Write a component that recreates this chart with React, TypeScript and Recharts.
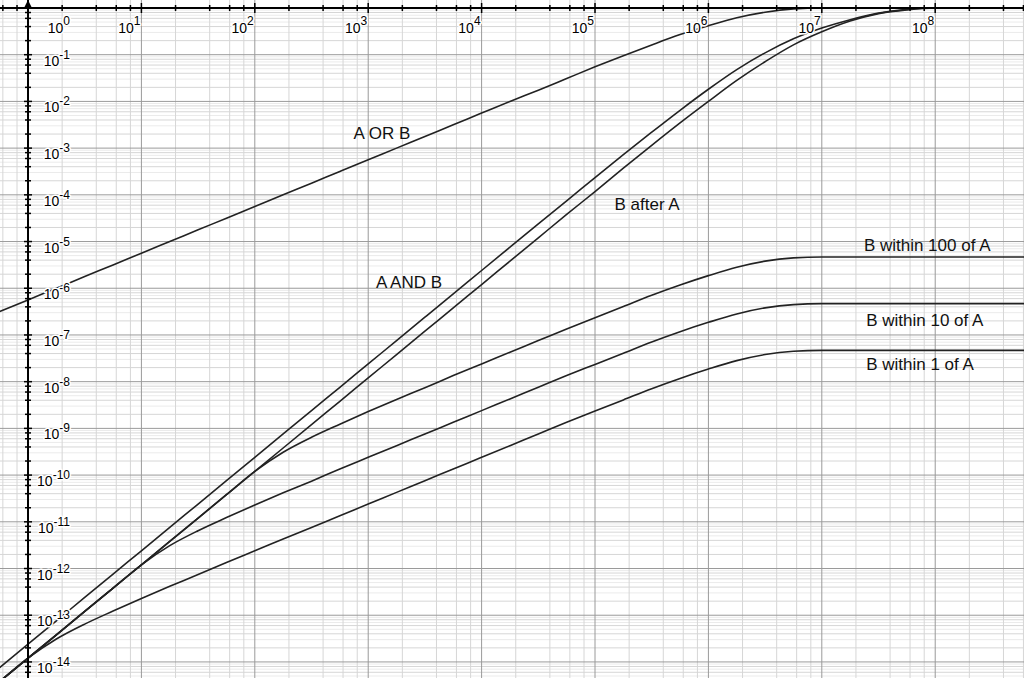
import { LineChart, Line, XAxis, YAxis, ReferenceLine, ReferenceDot } from 'recharts'

// sample positions along x, as powers of ten
const logN = [
  -0.25, 0, 0.25, 0.5, 0.75, 1, 1.25, 1.5, 1.75, 2, 2.25, 2.5, 2.75, 3, 3.25, 3.5, 3.75, 4, 4.25,
  4.5, 4.75, 5, 5.25, 5.5, 5.75, 6, 6.25, 6.5, 6.75, 7, 7.25, 7.5, 7.75, 8, 8.25, 8.5, 8.8,
]

// curve values, as powers of ten
const aOrB = [
  -6.5, -6.25, -6.0, -5.75, -5.5, -5.25, -5.0, -4.75, -4.5, -4.25, -4.0, -3.75, -3.5, -3.25, -3.0,
  -2.75, -2.5, -2.25, -2.0, -1.76, -1.51, -1.26, -1.02, -0.79, -0.57, -0.38, -0.21, -0.09, -0.02, 0,
  0, 0, 0, 0, 0, 0, 0,
]
const aAndB = [
  -14.12, -13.62, -13.12, -12.62, -12.12, -11.62, -11.12, -10.62, -10.12, -9.62, -9.12, -8.62, -8.12,
  -7.62, -7.12, -6.62, -6.12, -5.62, -5.12, -4.62, -4.13, -3.63, -3.14, -2.66, -2.19, -1.74, -1.32,
  -0.96, -0.66, -0.43, -0.25, -0.11, -0.03, 0, 0, 0, 0,
]
const bAfterA = [
  -14.42, -13.92, -13.42, -12.92, -12.42, -11.92, -11.42, -10.92, -10.42, -9.92, -9.42, -8.92, -8.42,
  -7.92, -7.42, -6.92, -6.42, -5.92, -5.42, -4.92, -4.42, -3.93, -3.43, -2.94, -2.46, -2.0, -1.55,
  -1.15, -0.79, -0.51, -0.28, -0.12, -0.04, 0, 0, 0, 0,
]
const within100 = [
  -14.42, -13.92, -13.42, -12.92, -12.42, -11.92, -11.42, -10.92, -10.42, -9.92, -9.51, -9.19, -8.91,
  -8.64, -8.38, -8.13, -7.87, -7.62, -7.37, -7.12, -6.87, -6.63, -6.39, -6.15, -5.93, -5.73, -5.55,
  -5.42, -5.35, -5.33, -5.33, -5.33, -5.33, -5.33, -5.33, -5.33, -5.33,
]
const within10 = [
  -14.42, -13.92, -13.42, -12.92, -12.42, -11.92, -11.51, -11.19, -10.91, -10.64, -10.38, -10.13,
  -9.87, -9.62, -9.37, -9.12, -8.87, -8.62, -8.37, -8.12, -7.87, -7.63, -7.39, -7.15, -6.93, -6.73,
  -6.55, -6.42, -6.35, -6.33, -6.33, -6.33, -6.33, -6.33, -6.33, -6.33, -6.33,
]
const within1 = [
  -14.42, -13.92, -13.51, -13.19, -12.91, -12.64, -12.38, -12.13, -11.87, -11.62, -11.37, -11.12,
  -10.87, -10.62, -10.37, -10.12, -9.87, -9.62, -9.37, -9.12, -8.87, -8.63, -8.39, -8.15, -7.93,
  -7.73, -7.55, -7.42, -7.35, -7.33, -7.33, -7.33, -7.33, -7.33, -7.33, -7.33, -7.33,
]

const xDecades = [0, 1, 2, 3, 4, 5, 6, 7, 8]
const yDecades = [-1, -2, -3, -4, -5, -6, -7, -8, -9, -10, -11, -12, -13, -14]

const curveLabels = [
  { text: 'A OR B', n: 1320, p: 2.1e-3 },
  { text: 'A AND B', n: 2290, p: 1.3e-6 },
  { text: 'B after A', n: 2.88e5, p: 6.1e-5 },
  { text: 'B within 100 of A', n: 8.5e7, p: 8.4e-6 },
  { text: 'B within 10 of A', n: 8.1e7, p: 2.0e-7 },
  { text: 'B within 1 of A', n: 7.35e7, p: 2.3e-8 },
]

const xDomain = [10 ** -0.247, 10 ** 8.783]
const yDomain = [10 ** -14.344, 10 ** 0.171]

const data = logN.map((e, i) => ({
  n: 10 ** e,
  aOrB: 10 ** aOrB[i],
  aAndB: 10 ** aAndB[i],
  bAfterA: 10 ** bAfterA[i],
  within100: 10 ** within100[i],
  within10: 10 ** within10[i],
  within1: 10 ** within1[i],
}))

const evenSteps = [2, 4, 6, 8]
const oddSteps = [3, 5, 7, 9]
const xMinor: number[] = []
for (let k = -1; k <= 8; k++) evenSteps.forEach((m) => xMinor.push(m * 10 ** k))
const yMinorEven: number[] = []
const yMinorOdd: number[] = []
for (let k = -15; k <= -1; k++) {
  evenSteps.forEach((m) => yMinorEven.push(m * 10 ** k))
  oddSteps.forEach((m) => yMinorOdd.push(m * 10 ** k))
}

const font = '"Liberation Sans", Arial, Helvetica, sans-serif'
const curveKeys = ['aOrB', 'aAndB', 'bAfterA', 'within100', 'within10', 'within1']

const halo = { stroke: '#fff', strokeWidth: 3, paintOrder: 'stroke' as const, strokeLinejoin: 'round' as const }

function xTick(k: number) {
  return (props: any) => {
    const { cx, cy } = props
    return (
      <g>
        <line x1={cx} x2={cx} y1={cy - 5} y2={cy + 5} stroke="#000" strokeWidth={1.5} />
        <text x={k === 0 ? cx + 42 : cx - 1} y={cy + 25} textAnchor="end" fontFamily={font} fontSize={14} fill="#000" {...halo}>
          10<tspan dy={-8} fontSize={12}>{k}</tspan>
        </text>
      </g>
    )
  }
}

function yTick(k: number) {
  return (props: any) => {
    const { cx, cy } = props
    return (
      <g>
        <line x1={cx - 4} x2={cx + 4} y1={cy} y2={cy} stroke="#000" strokeWidth={1.5} />
        <text x={cx + 42} y={cy + 11} textAnchor="end" fontFamily={font} fontSize={14} fill="#000" {...halo}>
          10<tspan dy={-7} fontSize={12}>{k}</tspan>
        </text>
      </g>
    )
  }
}

const xMinorTick = (props: any) => (
  <line x1={props.cx} x2={props.cx} y1={props.cy - 3} y2={props.cy + 3} stroke="#000" strokeWidth={1.5} />
)
const yMinorTick = (props: any) => (
  <line x1={props.cx - 3} x2={props.cx + 3} y1={props.cy} y2={props.cy} stroke="#000" strokeWidth={1.5} />
)
const arrow = (props: any) => (
  <path d={`M${props.cx},${props.cy} L${props.cx - 4.5},${props.cy + 9} L${props.cx + 4.5},${props.cy + 9} Z`} fill="#000" />
)
const curveLabel = (text: string) => (props: any) => (
  <text x={props.cx} y={props.cy} textAnchor="middle" dominantBaseline="central" fontFamily={font} fontSize={17} fill="#111">
    {text}
  </text>
)

export default function App() {
  return (
    <div style={{ position: 'absolute', left: 0, top: 0, background: '#fff' }}>
      <LineChart width={1024} height={678} data={data} margin={{ top: 0, right: 0, bottom: 0, left: 0 }}>
        <XAxis dataKey="n" type="number" scale="log" domain={xDomain} allowDataOverflow hide />
        <YAxis type="number" scale="log" domain={yDomain} allowDataOverflow hide />

        {yMinorOdd.map((v) => (
          <ReferenceLine key={'yo' + v} y={v} stroke="#ebebeb" strokeWidth={1} />
        ))}
        {yMinorEven.map((v) => (
          <ReferenceLine key={'ye' + v} y={v} stroke="#d6d6d6" strokeWidth={1} />
        ))}
        {xMinor.map((v) => (
          <ReferenceLine key={'xm' + v} x={v} stroke="#d6d6d6" strokeWidth={1} />
        ))}
        {yDecades.map((k) => (
          <ReferenceLine key={'yd' + k} y={10 ** k} stroke="#9a9a9a" strokeWidth={1} />
        ))}
        {xDecades.map((k) => (
          <ReferenceLine key={'xd' + k} x={10 ** k} stroke="#9a9a9a" strokeWidth={1} />
        ))}

        {curveKeys.map((key) => (
          <Line key={key} dataKey={key} type="monotone" stroke="#222" strokeWidth={1.6} dot={false} isAnimationActive={false} />
        ))}

        <ReferenceLine y={1} stroke="#000" strokeWidth={2} />
        <ReferenceLine x={1} stroke="#000" strokeWidth={2} />
        <ReferenceDot x={1} y={yDomain[1]} ifOverflow="visible" shape={arrow} />

        {xMinor.map((v) => (
          <ReferenceDot key={'xt' + v} x={v} y={1} ifOverflow="visible" shape={xMinorTick} />
        ))}
        {yMinorEven.map((v) => (
          <ReferenceDot key={'yt' + v} x={1} y={v} ifOverflow="visible" shape={yMinorTick} />
        ))}
        {xDecades.map((k) => (
          <ReferenceDot key={'xl' + k} x={10 ** k} y={1} shape={xTick(k)} />
        ))}
        {yDecades.map((k) => (
          <ReferenceDot key={'yl' + k} x={1} y={10 ** k} shape={yTick(k)} />
        ))}

        {curveLabels.map((c) => (
          <ReferenceDot key={c.text} x={c.n} y={c.p} shape={curveLabel(c.text)} />
        ))}
      </LineChart>
    </div>
  )
}
